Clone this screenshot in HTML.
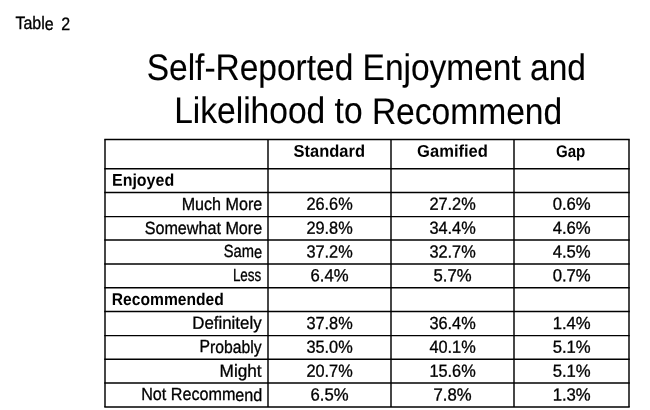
<!DOCTYPE html>
<html lang="en">
<head>
<meta charset="utf-8">
<title>Table 2 - Self-Reported Enjoyment and Likelihood to Recommend</title>
<style>
html,body{margin:0;padding:0;background:#fff;}
body{width:650px;height:410px;overflow:hidden;}
svg{display:block;}
text{font-family:"Liberation Sans",Arial,Helvetica,sans-serif;fill:#000;stroke:#000;stroke-width:0.32px;}
.t{stroke-width:0.12px;}
.b{stroke-width:0;}
.b{font-weight:700;}
.g line{stroke:#000;stroke-width:1.45;}
</style>
</head>
<body>
<svg width="650" height="410" viewBox="0 0 650 410">
<rect width="650" height="410" fill="#fff"/>
<g class="g">
<line x1="104.28" y1="139.45" x2="629.73" y2="139.45"/>
<line x1="104.28" y1="168.70" x2="629.73" y2="168.70"/>
<line x1="104.28" y1="192.50" x2="629.73" y2="192.50"/>
<line x1="104.28" y1="216.60" x2="629.73" y2="216.60"/>
<line x1="104.28" y1="240.05" x2="629.73" y2="240.05"/>
<line x1="104.28" y1="263.90" x2="629.73" y2="263.90"/>
<line x1="104.28" y1="287.75" x2="629.73" y2="287.75"/>
<line x1="104.28" y1="311.56" x2="629.73" y2="311.56"/>
<line x1="104.28" y1="335.60" x2="629.73" y2="335.60"/>
<line x1="104.28" y1="359.20" x2="629.73" y2="359.20"/>
<line x1="104.28" y1="383.00" x2="629.73" y2="383.00"/>
<line x1="104.28" y1="407.00" x2="629.73" y2="407.00"/>
<line x1="105.00" y1="139.45" x2="105.00" y2="407.00"/>
<line x1="268.00" y1="139.45" x2="268.00" y2="407.00"/>
<line x1="391.00" y1="139.45" x2="391.00" y2="407.00"/>
<line x1="514.00" y1="139.45" x2="514.00" y2="407.00"/>
<line x1="629.00" y1="139.45" x2="629.00" y2="407.00"/>
</g>
<text id="cap" transform="rotate(0.03 42.5 29.50)" x="15.45" y="29.50" font-size="18" word-spacing="3.5" textLength="54.60" lengthAdjust="spacingAndGlyphs">Table 2</text>
<text id="t1" class="t" transform="rotate(0.03 366.1 80.30)" x="146.69" y="80.30" font-size="37.0" textLength="439.28" lengthAdjust="spacingAndGlyphs">Self-Reported Enjoyment and</text>
<text id="t2" class="t" transform="rotate(0.03 368.3 123.50)" x="174.13" y="123.50" font-size="37.0" textLength="388.00" lengthAdjust="spacingAndGlyphs">Likelihood to Recommend</text>
<text id="h1" class="b" transform="rotate(0.03 329.0 156.75)" x="293.52" y="156.75" font-size="17.0" textLength="71.47" lengthAdjust="spacingAndGlyphs">Standard</text>
<text id="h2" class="b" transform="rotate(0.03 452.2 156.75)" x="417.10" y="156.75" font-size="17.0" textLength="70.83" lengthAdjust="spacingAndGlyphs">Gamified</text>
<text id="h3" class="b" transform="rotate(0.03 570.7 156.75)" x="555.99" y="156.75" font-size="17.0" textLength="29.34" lengthAdjust="spacingAndGlyphs">Gap</text>
<text id="s1" class="b" transform="rotate(0.03 143.1 185.85)" x="111.97" y="185.85" font-size="17.0" textLength="62.18" lengthAdjust="spacingAndGlyphs">Enjoyed</text>
<text id="s2" class="b" transform="rotate(0.03 167.8 304.97)" x="111.84" y="304.97" font-size="17.0" textLength="112.00" lengthAdjust="spacingAndGlyphs">Recommended</text>
<text id="l2" transform="rotate(0.03 222.1 209.85)" x="181.66" y="209.85" font-size="17.6" textLength="80.55" lengthAdjust="spacingAndGlyphs">Much More</text>
<text id="l3" transform="rotate(0.03 203.4 233.68)" x="144.67" y="233.68" font-size="17.6" textLength="117.55" lengthAdjust="spacingAndGlyphs">Somewhat More</text>
<text id="l4" transform="rotate(0.03 242.9 257.51)" x="223.74" y="257.51" font-size="17.6" textLength="38.41" lengthAdjust="spacingAndGlyphs">Same</text>
<text id="l5" transform="rotate(0.03 247.4 281.34)" x="232.89" y="281.34" font-size="17.6" textLength="28.39" lengthAdjust="spacingAndGlyphs">Less</text>
<text id="l7" transform="rotate(0.03 227.6 328.70)" x="192.26" y="328.70" font-size="17.6" textLength="69.33" lengthAdjust="spacingAndGlyphs">Definitely</text>
<text id="l8" transform="rotate(0.03 231.0 352.53)" x="199.47" y="352.53" font-size="17.6" textLength="62.12" lengthAdjust="spacingAndGlyphs">Probably</text>
<text id="l9" transform="rotate(0.03 241.1 376.66)" x="219.62" y="376.66" font-size="17.6" textLength="42.04" lengthAdjust="spacingAndGlyphs">Might</text>
<text id="l10" transform="rotate(0.03 201.9 400.49)" x="141.15" y="400.49" font-size="17.6" textLength="121.15" lengthAdjust="spacingAndGlyphs">Not Recommend</text>
<text id="v2_0" transform="rotate(0.03 329.6 209.85)" x="306.40" y="209.85" font-size="17.5" textLength="46.28" lengthAdjust="spacingAndGlyphs">26.6%</text>
<text id="v2_1" transform="rotate(0.03 452.6 209.85)" x="429.40" y="209.85" font-size="17.5" textLength="46.28" lengthAdjust="spacingAndGlyphs">27.2%</text>
<text id="v2_2" transform="rotate(0.03 571.7 209.85)" x="552.66" y="209.85" font-size="17.5" textLength="38.06" lengthAdjust="spacingAndGlyphs">0.6%</text>
<text id="v3_0" transform="rotate(0.03 329.6 233.68)" x="306.40" y="233.68" font-size="17.5" textLength="46.28" lengthAdjust="spacingAndGlyphs">29.8%</text>
<text id="v3_1" transform="rotate(0.03 452.6 233.68)" x="429.40" y="233.68" font-size="17.5" textLength="46.28" lengthAdjust="spacingAndGlyphs">34.4%</text>
<text id="v3_2" transform="rotate(0.03 571.7 233.68)" x="552.66" y="233.68" font-size="17.5" textLength="38.06" lengthAdjust="spacingAndGlyphs">4.6%</text>
<text id="v4_0" transform="rotate(0.03 329.6 257.51)" x="306.40" y="257.51" font-size="17.5" textLength="46.28" lengthAdjust="spacingAndGlyphs">37.2%</text>
<text id="v4_1" transform="rotate(0.03 452.6 257.51)" x="429.40" y="257.51" font-size="17.5" textLength="46.28" lengthAdjust="spacingAndGlyphs">32.7%</text>
<text id="v4_2" transform="rotate(0.03 571.7 257.51)" x="552.66" y="257.51" font-size="17.5" textLength="38.06" lengthAdjust="spacingAndGlyphs">4.5%</text>
<text id="v5_0" transform="rotate(0.03 329.6 281.34)" x="310.56" y="281.34" font-size="17.5" textLength="38.06" lengthAdjust="spacingAndGlyphs">6.4%</text>
<text id="v5_1" transform="rotate(0.03 452.6 281.34)" x="433.56" y="281.34" font-size="17.5" textLength="38.06" lengthAdjust="spacingAndGlyphs">5.7%</text>
<text id="v5_2" transform="rotate(0.03 571.7 281.34)" x="552.66" y="281.34" font-size="17.5" textLength="38.06" lengthAdjust="spacingAndGlyphs">0.7%</text>
<text id="v7_0" transform="rotate(0.03 329.6 329.00)" x="306.40" y="329.00" font-size="17.5" textLength="46.28" lengthAdjust="spacingAndGlyphs">37.8%</text>
<text id="v7_1" transform="rotate(0.03 452.6 329.00)" x="429.40" y="329.00" font-size="17.5" textLength="46.28" lengthAdjust="spacingAndGlyphs">36.4%</text>
<text id="v7_2" transform="rotate(0.03 571.7 329.00)" x="552.66" y="329.00" font-size="17.5" textLength="38.06" lengthAdjust="spacingAndGlyphs">1.4%</text>
<text id="v8_0" transform="rotate(0.03 329.6 352.83)" x="306.40" y="352.83" font-size="17.5" textLength="46.28" lengthAdjust="spacingAndGlyphs">35.0%</text>
<text id="v8_1" transform="rotate(0.03 452.6 352.83)" x="429.40" y="352.83" font-size="17.5" textLength="46.28" lengthAdjust="spacingAndGlyphs">40.1%</text>
<text id="v8_2" transform="rotate(0.03 571.7 352.83)" x="552.66" y="352.83" font-size="17.5" textLength="38.06" lengthAdjust="spacingAndGlyphs">5.1%</text>
<text id="v9_0" transform="rotate(0.03 329.6 376.66)" x="306.40" y="376.66" font-size="17.5" textLength="46.28" lengthAdjust="spacingAndGlyphs">20.7%</text>
<text id="v9_1" transform="rotate(0.03 452.6 376.66)" x="429.40" y="376.66" font-size="17.5" textLength="46.28" lengthAdjust="spacingAndGlyphs">15.6%</text>
<text id="v9_2" transform="rotate(0.03 571.7 376.66)" x="552.66" y="376.66" font-size="17.5" textLength="38.06" lengthAdjust="spacingAndGlyphs">5.1%</text>
<text id="v10_0" transform="rotate(0.03 329.6 400.49)" x="310.56" y="400.49" font-size="17.5" textLength="38.06" lengthAdjust="spacingAndGlyphs">6.5%</text>
<text id="v10_1" transform="rotate(0.03 452.6 400.49)" x="433.56" y="400.49" font-size="17.5" textLength="38.06" lengthAdjust="spacingAndGlyphs">7.8%</text>
<text id="v10_2" transform="rotate(0.03 571.7 400.49)" x="552.66" y="400.49" font-size="17.5" textLength="38.06" lengthAdjust="spacingAndGlyphs">1.3%</text>
</svg>
</body>
</html>
